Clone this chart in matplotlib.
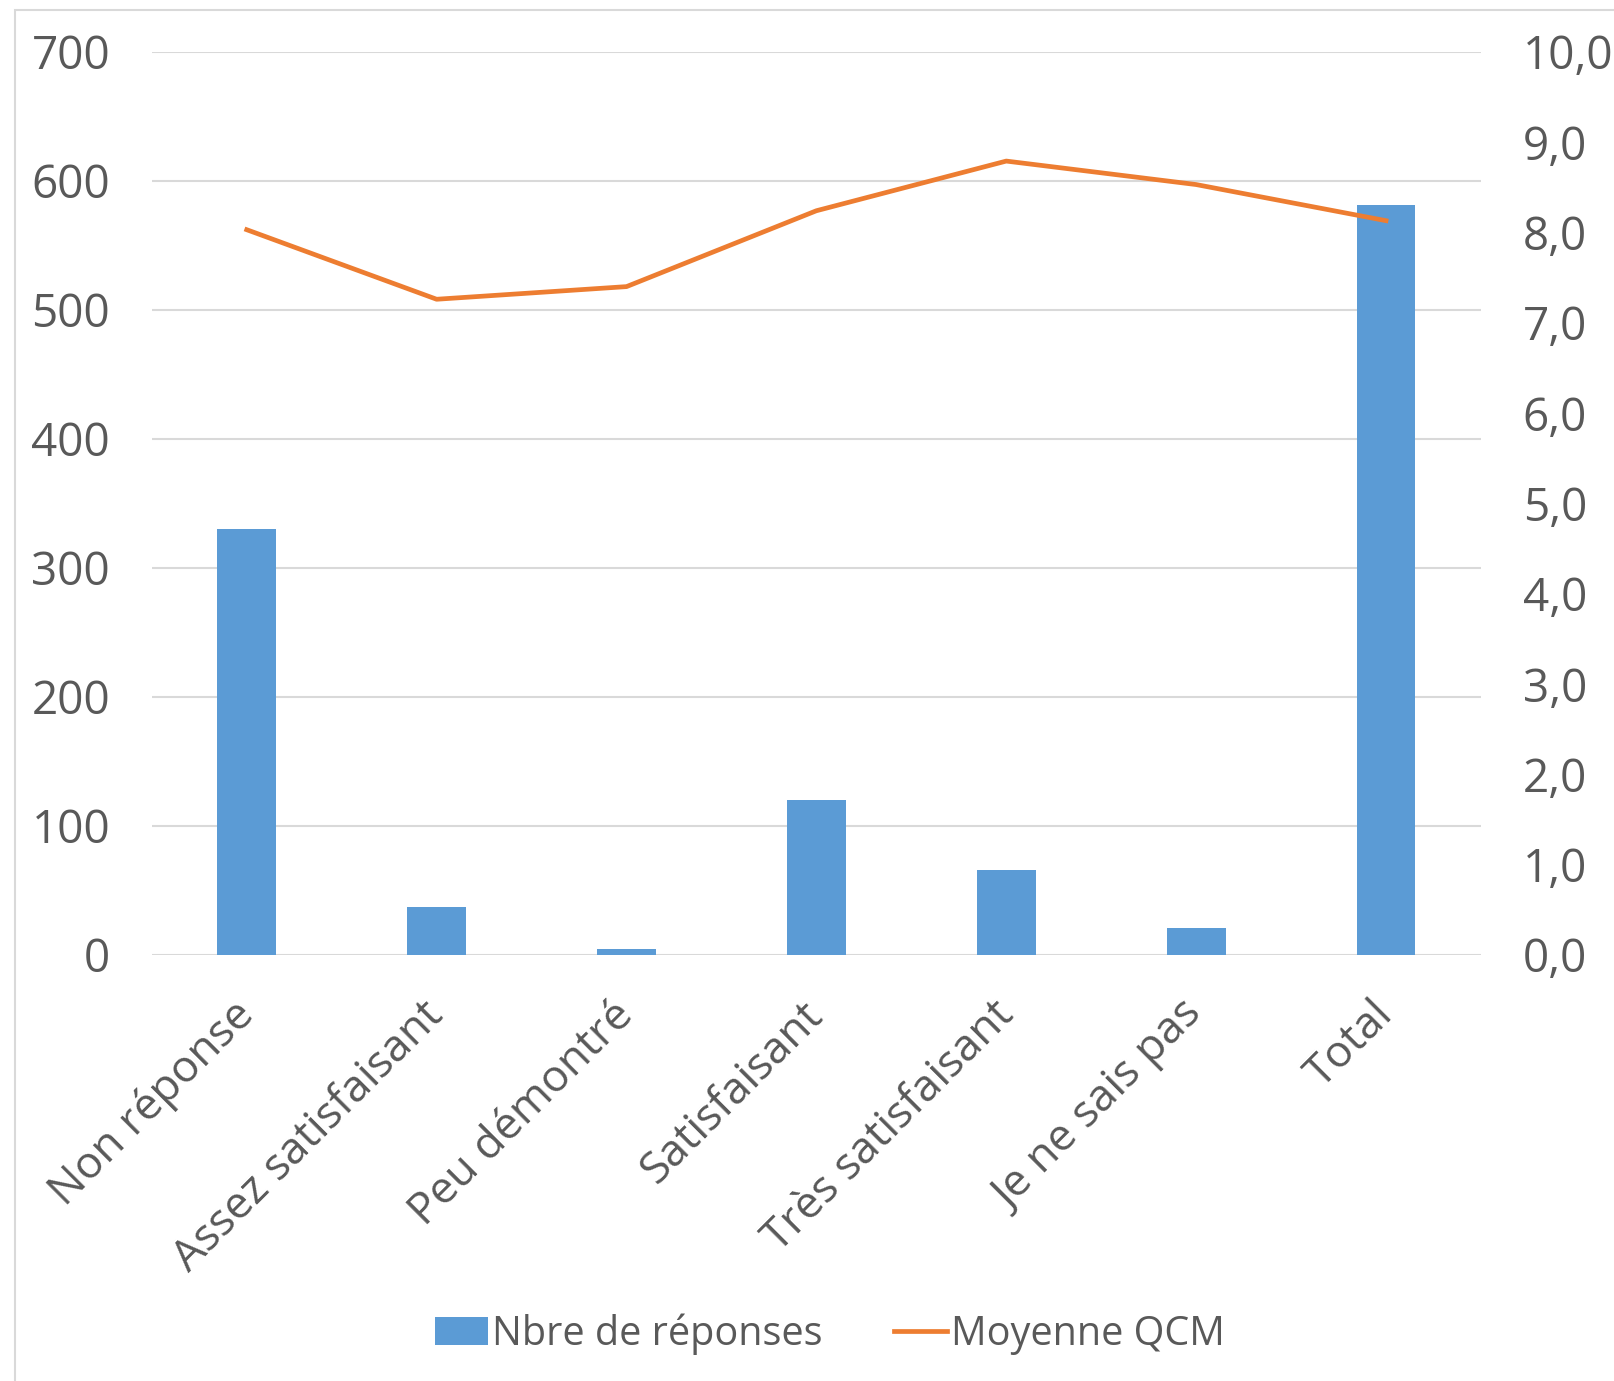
import numpy as np
import matplotlib
matplotlib.use("Agg")
import matplotlib.pyplot as plt
from matplotlib.patches import Rectangle
from matplotlib.ticker import FuncFormatter
from matplotlib.transforms import ScaledTranslation

categories = ["Non réponse", "Assez satisfaisant", "Peu démontré", "Satisfaisant",
              "Très satisfaisant", "Je ne sais pas", "Total"]
nb_reponses = [330, 37, 5, 120, 66, 21, 581]
moyenne_qcm = [8.03, 7.26, 7.40, 8.24, 8.79, 8.53, 8.13]

plt.rcParams["font.family"] = ["Open Sans", "DejaVu Sans"]
txt = "#595959"
grid = "#D9D9D9"

fig = plt.figure(figsize=(16.15, 13.81), dpi=100)
ax = fig.add_axes([0.094, 0.3085, 0.823, 0.654])
x = np.arange(len(categories))

b = ax.bar(x, nb_reponses, width=0.31, color="#5B9BD5", zorder=3, label="Nbre de réponses")
ax.set_xlim(-0.5, len(categories) - 0.5)
ax.set_ylim(0, 700)
ax.set_yticks(range(0, 701, 100))
ax.grid(axis="y", color=grid, linewidth=1.5, zorder=0)
for s in ax.spines.values():
    s.set_visible(False)
ax.tick_params(axis="y", length=0, pad=30, labelsize=33, labelcolor=txt)
ax.tick_params(axis="x", length=0, pad=18, labelsize=32, labelcolor=txt)
ax.set_xticks(x)
ax.set_xticklabels(categories, rotation=45, ha="right", rotation_mode="anchor")
# nudge the rotated labels a bit down-left, like the original
shift = ScaledTranslation(-0.15, -0.13, fig.dpi_scale_trans)
for lab in ax.get_xticklabels():
    lab.set_transform(lab.get_transform() + shift)
ax.axhline(0, color=grid, linewidth=2, zorder=2)

ax2 = ax.twinx()
l, = ax2.plot(x, moyenne_qcm, color="#ED7D31", linewidth=3.4, zorder=4, label="Moyenne QCM")
ax2.set_ylim(0, 10)
ax2.set_yticks(range(0, 11))
ax2.yaxis.set_major_formatter(FuncFormatter(lambda v, p: f"{v:.1f}".replace(".", ",")))
for s in ax2.spines.values():
    s.set_visible(False)
ax2.tick_params(axis="y", length=0, pad=30, labelsize=33, labelcolor=txt)

leg = fig.legend([b, l], ["Nbre de réponses", "Moyenne QCM"], loc="center",
                 bbox_to_anchor=(0.514, 0.034), ncol=2, frameon=False, fontsize=28.5,
                 handlelength=1.35, handletextpad=0.1, columnspacing=1.8)
for t in leg.get_texts():
    t.set_color(txt)

fig.patches.append(Rectangle((15 / 1615, -0.1), 1.2, 1 - 10 / 1381 + 0.1,
                             transform=fig.transFigure, fill=False,
                             edgecolor=grid, linewidth=1.5))

fig.savefig("out.png", dpi=100)
